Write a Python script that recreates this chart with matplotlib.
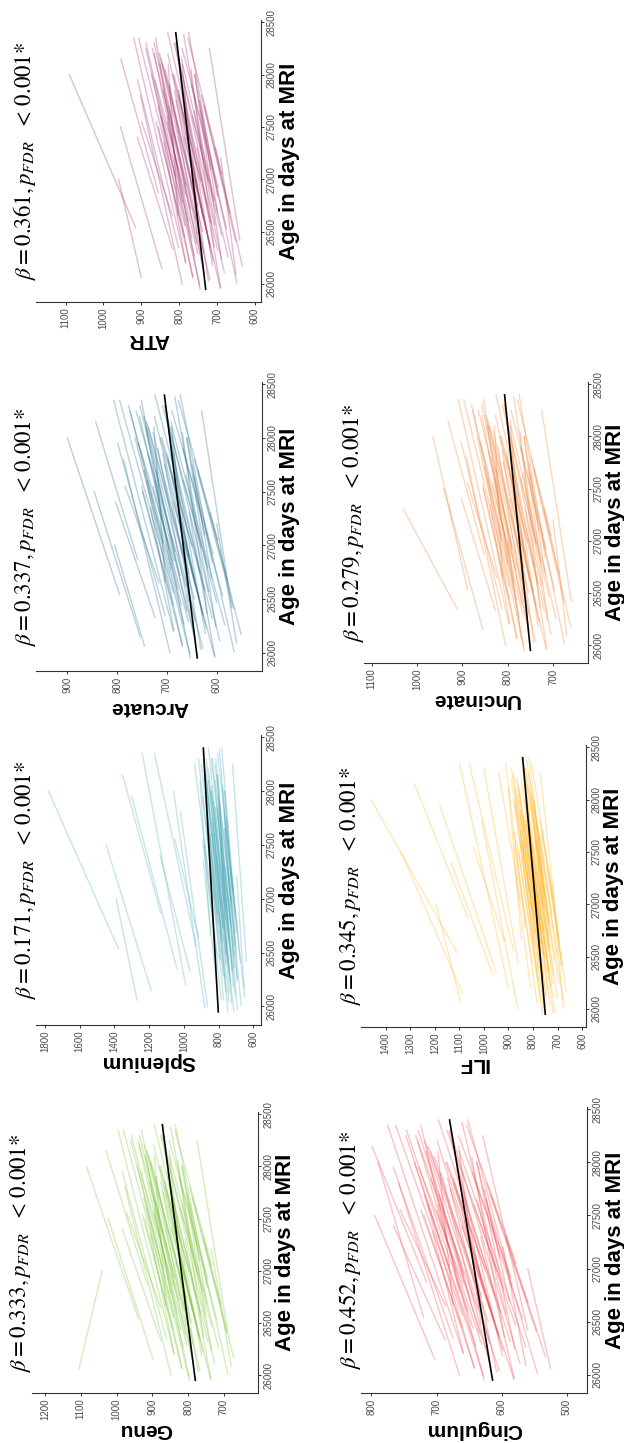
import matplotlib
matplotlib.use('Agg')
import matplotlib.pyplot as plt

W, H = 624, 1443

# same subjects in every tract: age (days) at first and second MRI
AGE_START = [25950, 25970, 26000, 26030, 26060, 26090, 26120, 26150, 26180, 26210,
             26240, 26270, 26300, 26330, 26360, 26390, 26420, 26450, 26480, 26510,
             26540, 26570, 26600, 26630, 26660, 26690, 26720, 26750, 26780, 26810,
             26840, 26870, 26900, 26940, 26980, 27020, 26060, 26350, 26650, 27100,
             25960, 25990, 26010, 26040, 26070, 26110, 26140, 26170, 26200, 26230,
             26260, 26290, 26320, 26350, 26380, 26410, 26440, 26470, 26500, 26530,
             26560, 26590, 26620, 26680, 26740, 26800, 26860, 26920, 26990, 27050]
AGE_END = [27600, 27300, 27800, 27450, 27700, 27200, 27900, 27500, 28150, 27350,
           28000, 27600, 27850, 27400, 28050, 27700, 28250, 27550, 28150, 27800,
           28000, 27650, 28200, 27850, 28100, 27750, 28300, 27950, 28350, 28050,
           28400, 28150, 28300, 28100, 28380, 28250, 27000, 27300, 27550, 28000,
           27400, 28000, 27650, 28200, 27500, 28300, 27850, 27300, 28350, 27750,
           28100, 27550, 28400, 27950, 28200, 27800, 28300, 27600, 28150, 27900,
           28350, 28000, 28250, 27700, 28100, 28300, 27950, 28250, 28000, 28350]
FIT_AGE = [25950, 28400]

GENU_START = [796, 737, 848, 772, 817, 680, 786, 898, 762, 840, 736, 814, 788, 876, 757, 808,
              690, 843, 805, 779, 939, 753, 831, 790, 862, 748, 825, 777, 849, 812, 747, 914,
              805, 839, 775, 870, 1105, 768, 877, 768,
              737, 799, 689, 767, 818, 726, 787, 673, 839, 759, 715, 804, 745, 861, 769,
              693, 821, 735, 790, 720, 842, 766, 811, 709, 805, 758, 842, 745, 797, 734]
GENU_END = [895, 809, 976, 840, 924, 735, 890, 1023, 866, 905, 817, 916, 876, 984, 829, 894,
            775, 929, 853, 865, 1084, 816, 937, 865, 894, 803, 936, 859, 930, 904, 836, 1029,
            872, 920, 849, 961, 1040, 834, 971, 817,
            846, 942, 796, 921, 921, 871, 909, 756, 996, 870, 852, 896, 895, 984, 896,
            796, 959, 822, 915, 825, 981, 877, 940, 788, 910, 877, 933, 853, 880, 837]
GENU_FIT = [780, 872]

SPLENIUM_START = [747, 693, 864, 725, 771, 650, 738, 1189, 715, 811, 692, 763, 739, 965, 711, 757,
                  640, 805, 756, 732, 1378, 709, 780, 741, 847, 703, 774, 730, 806, 762, 703, 1134,
                  755, 787, 728, 840, 1270, 721, 917, 722,
                  713, 880, 670, 741, 786, 704, 759, 656, 990, 733, 694, 774, 721, 1040, 743,
                  674, 790, 711, 761, 698, 930, 740, 781, 690, 775, 733, 809, 722, 769, 713]
SPLENIUM_END = [835, 757, 1019, 787, 870, 695, 830, 1448, 808, 889, 766, 852, 818, 1137, 777, 833,
                720, 893, 802, 807, 1780, 765, 874, 808, 907, 752, 871, 802, 889, 842, 782, 1353,
                816, 857, 795, 939, 1390, 778, 1052, 766,
                813, 1060, 769, 881, 881, 837, 871, 731, 1240, 835, 819, 858, 859, 1300, 859,
                768, 916, 792, 876, 795, 1170, 842, 900, 761, 871, 842, 892, 821, 845, 806]
SPLENIUM_FIT = [802, 888]

ARCUATE_START = [653, 604, 694, 632, 669, 560, 644, 754, 623, 686, 602, 666, 644, 724, 619, 660,
                 570, 688, 657, 636, 795, 616, 678, 644, 703, 610, 674, 634, 692, 662, 609, 759,
                 656, 684, 631, 708, 745, 628, 716, 625,
                 604, 654, 565, 628, 669, 594, 644, 551, 687, 621, 584, 657, 609, 704, 629,
                 566, 671, 600, 645, 588, 687, 625, 662, 579, 656, 618, 686, 607, 649, 598]
ARCUATE_END = [724, 655, 787, 681, 746, 600, 718, 846, 698, 733, 660, 739, 708, 803, 669, 722,
               630, 751, 691, 698, 900, 661, 755, 699, 726, 649, 754, 693, 751, 728, 673, 843,
               704, 742, 684, 774, 805, 675, 784, 660,
               687, 764, 646, 746, 749, 704, 738, 613, 807, 705, 690, 728, 724, 799, 725,
               645, 777, 667, 741, 668, 795, 710, 762, 638, 737, 709, 757, 690, 713, 677]
ARCUATE_FIT = [639, 705]

ATR_START = [745, 691, 792, 723, 764, 650, 735, 846, 712, 783, 689, 760, 736, 817, 708, 754,
             640, 786, 752, 728, 915, 705, 776, 737, 803, 699, 770, 726, 792, 758, 699, 855,
             751, 782, 723, 809, 900, 718, 818, 717,
             691, 746, 648, 719, 764, 681, 736, 633, 783, 710, 671, 751, 698, 802, 720,
             651, 767, 688, 738, 675, 785, 717, 757, 666, 750, 708, 784, 697, 743, 687]
ATR_END = [830, 753, 902, 781, 855, 690, 825, 955, 802, 840, 759, 848, 812, 910, 769, 828,
           720, 861, 793, 802, 1090, 760, 866, 802, 829, 746, 866, 796, 862, 837, 775, 954,
           809, 851, 788, 888, 960, 774, 899, 759,
           787, 873, 742, 852, 855, 809, 843, 705, 920, 808, 791, 832, 830, 910, 830,
           741, 888, 765, 848, 768, 907, 814, 871, 734, 843, 814, 864, 792, 817, 777]
ATR_FIT = [730, 809]

CINGULUM_START = [627, 581, 665, 608, 642, 563, 619, 703, 599, 659, 580, 640, 619, 687, 596, 634,
                  560, 661, 632, 612, 720, 593, 652, 618, 675, 588, 648, 611, 665, 637, 584, 715,
                  632, 658, 608, 681, 525, 604, 686, 603,
                  581, 628, 545, 604, 642, 572, 619, 533, 659, 598, 563, 631, 587, 675, 605,
                  547, 644, 579, 621, 568, 660, 602, 637, 560, 631, 596, 659, 586, 625, 578]
CINGULUM_END = [698, 632, 758, 657, 719, 598, 693, 795, 674, 706, 638, 713, 683, 766, 646, 696,
                629, 724, 666, 674, 790, 638, 729, 674, 698, 627, 728, 670, 724, 703, 652, 799,
                680, 716, 661, 747, 560, 651, 756, 638,
                661, 734, 624, 718, 719, 679, 709, 593, 775, 679, 665, 700, 697, 766, 699,
                623, 746, 643, 713, 645, 763, 684, 732, 617, 709, 684, 727, 666, 686, 654]
CINGULUM_FIT = [614, 680]

ILF_START = [762, 719, 862, 745, 784, 680, 756, 1088, 739, 810, 721, 778, 759, 964, 737, 775,
             685, 804, 774, 755, 1110, 737, 794, 764, 847, 734, 791, 756, 831, 782, 735, 1065,
             778, 803, 757, 850, 1095, 745, 916, 753,
             709, 754, 674, 731, 769, 702, 747, 664, 900, 728, 696, 761, 718, 950, 736,
             681, 860, 713, 753, 702, 880, 736, 769, 695, 766, 733, 794, 724, 763, 717]
ILF_END = [851, 785, 1009, 809, 879, 720, 850, 1338, 835, 874, 798, 866, 839, 1135, 806, 851,
           770, 878, 826, 831, 1460, 794, 888, 831, 900, 785, 888, 828, 911, 862, 816, 1283,
           841, 874, 825, 939, 1195, 803, 1044, 798,
           803, 879, 769, 866, 859, 830, 853, 736, 1100, 824, 814, 841, 849, 1180, 848,
           771, 1000, 787, 861, 793, 1060, 832, 880, 764, 857, 835, 872, 817, 834, 806]
ILF_FIT = [750, 842]

UNCINATE_START = [764, 714, 805, 743, 780, 670, 754, 855, 733, 796, 712, 775, 754, 827, 729, 769,
                  660, 798, 766, 745, 889, 724, 787, 753, 812, 718, 782, 742, 800, 770, 717, 852,
                  763, 791, 738, 815, 770, 912, 824, 732,
                  715, 765, 675, 739, 780, 705, 754, 661, 797, 731, 694, 767, 719, 813, 738,
                  676, 780, 709, 754, 697, 796, 734, 771, 687, 764, 726, 794, 715, 756, 705]
UNCINATE_END = [829, 761, 891, 787, 851, 700, 822, 941, 801, 839, 764, 844, 812, 902, 773, 827,
                725, 856, 794, 802, 965, 766, 857, 803, 829, 754, 857, 797, 853, 832, 775, 932,
                807, 845, 787, 877, 800, 1030, 889, 764,
                793, 868, 751, 848, 854, 807, 842, 719, 909, 810, 793, 833, 826, 903, 827,
                749, 880, 772, 844, 772, 897, 814, 865, 743, 840, 812, 861, 793, 817, 779]
UNCINATE_FIT = [750, 807]

TRACTS = ['Genu', 'Splenium', 'Arcuate', 'ATR', 'Cingulum', 'ILF', 'Uncinate']
BETAS = ['0.333', '0.171', '0.337', '0.361', '0.452', '0.345', '0.279']
VALUE_TICKS = [[700, 800, 900, 1000, 1100, 1200],
               [600, 800, 1000, 1200, 1400, 1600, 1800],
               [600, 700, 800, 900],
               [600, 700, 800, 900, 1000, 1100],
               [500, 600, 700, 800],
               [600, 700, 800, 900, 1000, 1100, 1200, 1300, 1400],
               [700, 800, 900, 1000, 1100]]
AGE_TICKS = [26000, 26500, 27000, 27500, 28000, 28500]

DATA = [(GENU_START, GENU_END, GENU_FIT),
        (SPLENIUM_START, SPLENIUM_END, SPLENIUM_FIT),
        (ARCUATE_START, ARCUATE_END, ARCUATE_FIT),
        (ATR_START, ATR_END, ATR_FIT),
        (CINGULUM_START, CINGULUM_END, CINGULUM_FIT),
        (ILF_START, ILF_END, ILF_FIT),
        (UNCINATE_START, UNCINATE_END, UNCINATE_FIT)]

# layout: pixel box (x0, y0, x1, y1) from top-left, value limits (inverted), colour
BOXES = [(32, 1112, 258, 1393), (36, 735, 261, 1025), (36, 382, 262, 671), (36, 20, 261, 302),
         (361, 1107, 587, 1393), (361, 745, 586, 1027), (364, 382, 588, 663)]
VLIMS = [(1236, 605), (1852, 556), (963, 509), (1178, 584), (816, 469), (1501, 584), (1117, 623)]
COLORS = ['#72c22a', '#48a9b8', '#1b6b8c', '#a02a67', '#ef3e42', '#ffb319', '#f07c2c']

plt.rcParams['mathtext.fontset'] = 'stix'
SANS = ['Liberation Sans', 'DejaVu Sans']

fig = plt.figure(figsize=(W / 100, H / 100), dpi=100)


def fx(px):
    return px / W


def fy(py):
    return 1 - py / H


for k, tract in enumerate(TRACTS):
    x0, y0, x1, y1 = BOXES[k]
    ax = fig.add_axes([fx(x0), fy(y1), (x1 - x0) / W, (y1 - y0) / H])
    v_start, v_end, fit = DATA[k]
    for a, b, va, vb in zip(AGE_START, AGE_END, v_start, v_end):
        ax.plot([va, vb], [a, b], color=COLORS[k], alpha=0.3, lw=1.0)
    ax.plot(fit, FIT_AGE, color='black', lw=1.2)
    ax.set_xlim(*VLIMS[k])
    ax.set_ylim(25828, 28522)
    ax.set_xticks(VALUE_TICKS[k])
    ax.set_yticks(AGE_TICKS)
    ax.yaxis.tick_right()
    for s in ['top', 'left']:
        ax.spines[s].set_visible(False)
    for s in ['bottom', 'right']:
        ax.spines[s].set_color('#333333')
        ax.spines[s].set_linewidth(0.8)
    ax.tick_params(colors='#333333', labelcolor='#4d4d4d', labelsize=7,
                   length=2.5, width=0.7, pad=1.5)
    for lab in ax.get_xticklabels():
        lab.set_rotation(90)
        lab.set_fontfamily(SANS)
    for lab in ax.get_yticklabels():
        lab.set_rotation(90)
        lab.set_va('center')
        lab.set_fontfamily(SANS)

    cx = (x0 + x1) / 2
    cy = (y0 + y1) / 2
    fig.text(fx(x0 - 11), fy(cy),
             r'$\beta = %s, p_{FDR}\ \ <\, 0.001$*' % BETAS[k],
             rotation=90, ha='center', va='center', fontsize=16.5, family='STIXGeneral')
    fig.text(fx(cx), fy(y1 + 37), tract, rotation=180, ha='center', va='center',
             fontsize=15, weight='bold', family=SANS)
    fig.text(fx(x1 + 28), fy(cy), 'Age in days at MRI', rotation=90, ha='center',
             va='center', fontsize=16, weight='bold', family=SANS)

fig.savefig('out.png', dpi=100)
